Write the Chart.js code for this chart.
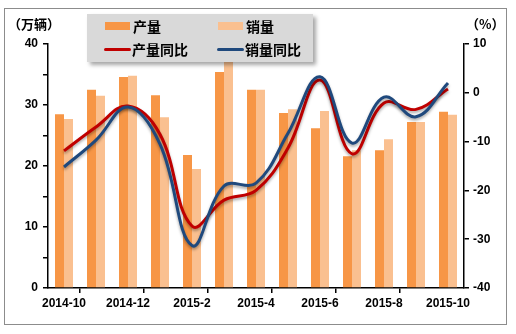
<!DOCTYPE html>
<html>
<head>
<meta charset="utf-8">
<script src="https://cdn.jsdelivr.net/npm/chart.js@4"></script>
<style>
  body { margin: 0; background: #fff; }
  #wrap { position: relative; width: 516px; height: 334px; }
  #frame { position: absolute; left: 4px; top: 8px; width: 501px; height: 315px; border: 1px solid #8c8c8c; }
  .unit { position: absolute; font: bold 13px "Noto Sans CJK SC", sans-serif; color: #000; }
  #legend { position: absolute; left: 87px; top: 14px; width: 226px; height: 48px; background: #d9d9d9;
    box-shadow: 3px 3px 4px rgba(0,0,0,0.35); font: bold 14px "Noto Sans CJK SC", sans-serif; }
  .item { position: absolute; display: flex; align-items: center; height: 20px; }
  .sw { width: 25px; height: 8px; margin-right: 3px; }
  .ln { width: 27px; height: 3px; margin-right: 1px; border-radius: 2px; }
</style>
</head>
<body>
<div id="wrap">
  <div id="frame"></div>
  <canvas id="c" width="516" height="334"></canvas>
  <div class="unit" style="left:8px; top:14px;">（万辆）</div>
  <div class="unit" style="left:466px; top:14px;">（%）</div>
  <div id="legend">
    <div class="item" style="left:18px; top:2px;"><span class="sw" style="background:#f79646"></span>产量</div>
    <div class="item" style="left:131px; top:2px;"><span class="sw" style="background:#fac090"></span>销量</div>
    <div class="item" style="left:17px; top:25px;"><span class="ln" style="background:#c00000"></span>产量同比</div>
    <div class="item" style="left:130px; top:25px;"><span class="ln" style="background:#1f497d"></span>销量同比</div>
  </div>
</div>
<script>
let months = ["2014-10", "2014-11", "2014-12", "2015-1", "2015-2", "2015-3", "2015-4",
  "2015-5", "2015-6", "2015-7", "2015-8", "2015-9", "2015-10"];
let production = [28.5, 32.5, 34.6, 31.6, 21.8, 35.4, 32.5, 28.7, 26.2, 21.6, 22.6, 27.2, 28.9];
let sales = [27.7, 31.5, 34.8, 28.0, 19.5, 37.5, 32.5, 29.3, 29.0, 22.6, 24.4, 27.2, 28.4];
let productionYoY = [-11.9, -7.0, -2.7, -8.5, -27.3, -22.0, -20.0, -11.3, 2.6, -12.5, -2.1, -3.4, 0.8];
let salesYoY = [-15.2, -9.7, -2.9, -10.5, -31.3, -19.1, -18.5, -8.3, 3.3, -10.3, -0.9, -4.9, 2.0];

let tickFont = { family: "Liberation Sans", size: 12, weight: "bold" };

// soft shadow under the two lines
let lineShadow = {
  id: "lineShadow",
  beforeDatasetDraw(chart, args) {
    if (chart.data.datasets[args.index].type !== "line") return;
    chart.ctx.save();
    chart.ctx.shadowColor = "rgba(0,0,0,0.35)";
    chart.ctx.shadowBlur = 3;
    chart.ctx.shadowOffsetY = 2;
  },
  afterDatasetDraw(chart, args) {
    if (chart.data.datasets[args.index].type !== "line") return;
    chart.ctx.restore();
  }
};

new Chart(document.getElementById("c"), {
  data: {
    labels: months,
    datasets: [
      { type: "line", label: "销量同比", data: salesYoY, yAxisID: "y1", borderColor: "#1f497d",
        borderWidth: 3, tension: 0.4, pointRadius: 0, order: 0 },
      { type: "line", label: "产量同比", data: productionYoY, yAxisID: "y1", borderColor: "#c00000",
        borderWidth: 3, tension: 0.4, pointRadius: 0, order: 1 },
      { type: "bar", label: "产量", data: production, yAxisID: "y", backgroundColor: "#f79646",
        categoryPercentage: 0.5625, barPercentage: 1, order: 5 },
      { type: "bar", label: "销量", data: sales, yAxisID: "y", backgroundColor: "#fac090",
        categoryPercentage: 0.5625, barPercentage: 1, order: 5 }
    ]
  },
  options: {
    responsive: false,
    animation: false,
    layout: { padding: { top: 44 } },
    plugins: { legend: { display: false }, tooltip: { enabled: false } },
    scales: {
      x: {
        offset: true,
        afterFit: s => { s.height = 46; },
        border: { color: "#000", width: 1.5 },
        grid: {
          offset: true, drawOnChartArea: false, tickLength: 5, lineWidth: 1.5,
          color: ctx => (ctx.index % 2 === 1 ? "#000" : "rgba(0,0,0,0)")
        },
        ticks: {
          autoSkip: false, maxRotation: 0, padding: 3, color: "#000", font: tickFont,
          callback: (v, i) => (i % 2 === 0 ? months[i] : "")
        }
      },
      y: {
        position: "left", min: 0, max: 40,
        afterFit: s => { s.width = 48; },
        border: { color: "#000", width: 1.5 },
        grid: { drawOnChartArea: false, tickLength: 5, color: "#000", lineWidth: 1.5 },
        ticks: { stepSize: 5, padding: 5, color: "#000", font: tickFont,
          callback: v => (v % 10 === 0 ? v : "") }
      },
      y1: {
        position: "right", min: -40, max: 10,
        afterFit: s => { s.width = 52; },
        border: { color: "#000", width: 1.5 },
        grid: { drawOnChartArea: false, tickLength: 5, color: "#000", lineWidth: 1.5 },
        ticks: { stepSize: 10, padding: 4, color: "#000", font: tickFont }
      }
    }
  },
  plugins: [lineShadow]
});
</script>
</body>
</html>
